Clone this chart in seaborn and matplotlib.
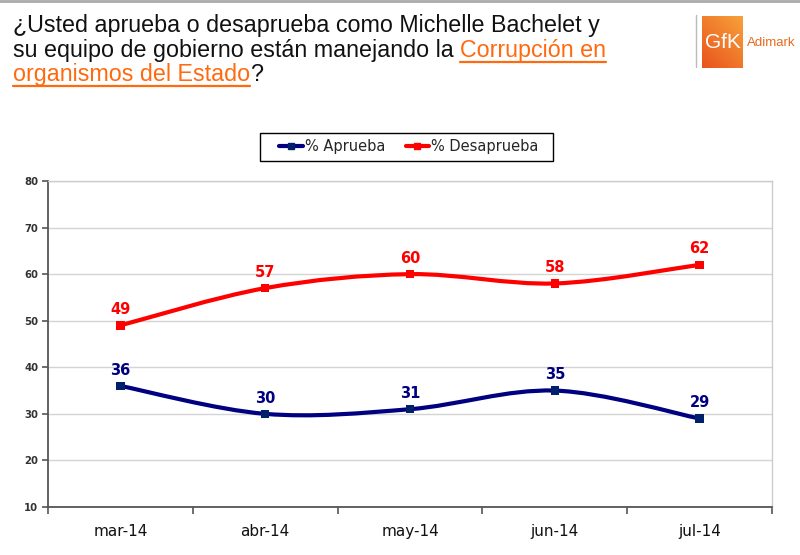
import numpy as np
import pandas as pd
import matplotlib
matplotlib.use("Agg")
import matplotlib.pyplot as plt
from matplotlib.path import Path
from matplotlib.patches import PathPatch, Rectangle
from matplotlib.lines import Line2D
import seaborn as sns

# data
months = ["mar-14", "abr-14", "may-14", "jun-14", "jul-14"]
aprueba = [36, 30, 31, 35, 29]
desaprueba = [49, 57, 60, 58, 62]
series_names = ["% Aprueba", "% Desaprueba"]
line_colors = ["#000080", "#ff0000"]
marker_colors = ["#00206b", "#ff0000"]
y_ticks = [10, 20, 30, 40, 50, 60, 70, 80]

W, H = 800, 555
sns.set_theme(style="white")
plt.rcParams["font.family"] = ["DejaVu Sans"]

df = pd.DataFrame({
    "pos": list(range(len(months))) * 2,
    "value": aprueba + desaprueba,
    "serie": [series_names[0]] * len(months) + [series_names[1]] * len(months),
})

fig = plt.figure(figsize=(W / 100, H / 100), dpi=100)
ax = fig.add_axes([48 / W, 1 - 507 / H, (772 - 48) / W, (507 - 181) / H])


def smooth_path(xs, ys):
    # excel-like smoothed line: catmull-rom converted to cubic bezier
    pts = np.column_stack([xs, ys]).astype(float)
    n = len(pts)
    verts = [pts[0]]
    codes = [Path.MOVETO]
    for i in range(n - 1):
        p0 = pts[max(i - 1, 0)]
        p1 = pts[i]
        p2 = pts[i + 1]
        p3 = pts[min(i + 2, n - 1)]
        verts += [p1 + (p2 - p0) / 6, p2 - (p3 - p1) / 6, p2]
        codes += [Path.CURVE4] * 3
    return Path(verts, codes)


for name, col in zip(series_names, line_colors):
    sub = df[df.serie == name]
    ax.add_patch(PathPatch(smooth_path(sub.pos, sub.value), fill=False,
                           edgecolor=col, lw=3, capstyle="round", zorder=3))

sns.scatterplot(data=df, x="pos", y="value", hue="serie", palette=marker_colors,
                marker="s", s=36, linewidth=0, legend=False, ax=ax, zorder=4)

for name, col in zip(series_names, line_colors):
    sub = df[df.serie == name]
    for x, v in zip(sub.pos, sub.value):
        ax.annotate(str(v), (x, v), xytext=(0, 6), textcoords="offset points",
                    ha="center", va="bottom", color=col, fontsize=10.5,
                    fontweight="bold", zorder=5)

ax.set_xlim(-0.5, len(months) - 0.5)
ax.set_ylim(10, 80)
ax.set_yticks(y_ticks)
ax.set_yticklabels([str(t) for t in y_ticks], fontsize=7.3, fontweight="bold", color="#333333")
ax.set_xticks(range(len(months)))
ax.set_xticklabels(months, fontsize=11, color="#111111")
ax.set_xticks(np.arange(-0.5, len(months)), minor=True)
ax.tick_params(axis="x", which="major", length=0, pad=12)
ax.tick_params(axis="x", which="minor", length=5, width=1.2, color="#555555", direction="out")
ax.tick_params(axis="y", which="major", length=4, width=1.2, color="#555555", direction="out", pad=3)
ax.tick_params(axis="y", left=True)
ax.tick_params(axis="x", which="minor", bottom=True)
ax.yaxis.grid(True, color="#d4d4d4", lw=1)
ax.set_axisbelow(True)
ax.set_xlabel("")
ax.set_ylabel("")
for s in ["left", "bottom"]:
    ax.spines[s].set_color("#555555")
    ax.spines[s].set_linewidth(1.3)
for s in ["top", "right"]:
    ax.spines[s].set_color("#cccccc")
    ax.spines[s].set_linewidth(1)

handles = [Line2D([], [], color=c, lw=3, marker="s", markersize=5, markerfacecolor=m,
                  markeredgecolor=m) for c, m in zip(line_colors, marker_colors)]
leg = fig.legend(handles, series_names, loc="center", bbox_to_anchor=(409 / W, 1 - 147 / H),
                 ncol=2, fontsize=10.5, frameon=False, handlelength=1.6,
                 handletextpad=0.15, columnspacing=1.4, borderpad=0.45)
# legend box drawn separately (wider horizontal padding than matplotlib allows)
fig.add_artist(Rectangle((260 / W, 1 - 161 / H), (553 - 260) / W, 28 / H,
                         transform=fig.transFigure, fill=False, edgecolor="black", lw=1))

# top border
fig.add_artist(Line2D([0, 1], [1 - 1 / H, 1 - 1 / H], color="#aaaaaa", lw=2))

# title with coloured, underlined part
fig.canvas.draw()
r = fig.canvas.get_renderer()
title_font = "Liberation Sans"
probe = fig.text(0, 0, "¿Usted aprueba o desaprueba como Michelle Bachelet y", fontsize=14,
                 family=title_font)
tsize = 14 * 589 / probe.get_window_extent(renderer=r).width
probe.remove()
orange = "#ff6a0f"


def put(x_px, base_px, s, color, underline=False):
    t = fig.text(x_px / W, 1 - base_px / H, s, fontsize=tsize, color=color,
                 va="baseline", ha="left", family=title_font)
    bb = t.get_window_extent(renderer=r)
    if underline:
        yy = 1 - (base_px + 4.5) / H
        fig.add_artist(Line2D([bb.x0 / W, bb.x1 / W], [yy, yy], color=orange, lw=1.6))
    return bb.x1


put(13, 32, "¿Usted aprueba o desaprueba como Michelle Bachelet y", "#111111")
x = put(13, 57, "su equipo de gobierno están manejando la ", "#111111")
put(x, 57, "Corrupción en", orange, underline=True)
x = put(13, 81, "organismos del Estado", orange, underline=True)
put(x, 81, "?", "#111111")

# logo
fig.add_artist(Line2D([696 / W, 696 / W], [1 - 15 / H, 1 - 67 / H], color="#bbbbbb", lw=1))
lax = fig.add_axes([702 / W, 1 - 68 / H, 41 / W, 52 / H])
gy, gx = np.mgrid[0:1:60j, 0:1:45j]
grad = 0.55 * gy + 0.45 * (1 - gx)
lax.imshow(grad, cmap=matplotlib.colors.LinearSegmentedColormap.from_list(
    "gfk", ["#f7a13a", "#e9531d"]), aspect="auto", extent=(0, 1, 0, 1))
lax.text(0.5, 0.5, "GfK", color="white", fontsize=15, ha="center", va="center",
         family="Liberation Sans")
lax.set_axis_off()
fig.text(747 / W, 1 - 43 / H, "Adimark", color="#e86a1e", fontsize=9.5, va="center",
         ha="left", family="Liberation Sans")

fig.savefig("out.png", dpi=100)
